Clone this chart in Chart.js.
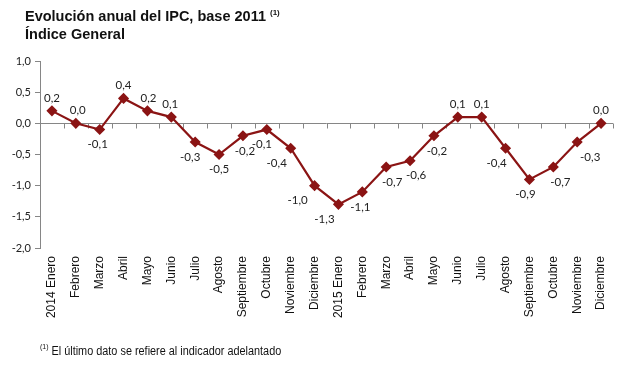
<!DOCTYPE html>
<html>
<head>
<meta charset="utf-8">
<script src="https://cdn.jsdelivr.net/npm/chart.js@4"></script>
<style>
  html, body { margin: 0; padding: 0; background: #fff; }
  #wrap { position: relative; width: 637px; height: 365px; overflow: hidden; }
  #chart { position: absolute; left: 0; top: 0; }
  .title { position: absolute; left: 25px; font: bold 14.5px "Liberation Sans", Arial, sans-serif; color: #111; }
  .title sup, .note sup { font-size: 8px; vertical-align: 6px; }
  .note { position: absolute; left: 40px; top: 342px; font: 12.5px "Liberation Sans", Arial, sans-serif; color: #111;
          white-space: nowrap; transform: scaleX(0.87); transform-origin: 0 0; }
</style>
</head>
<body>
<div id="wrap">
  <canvas id="chart" width="637" height="365"></canvas>
  <div class="title" style="top:8px">Evolución anual del IPC, base 2011 <sup>(1)</sup></div>
  <div class="title" style="top:26px">Índice General</div>
  <div class="note"><sup>(1)</sup> El último dato se refiere al indicador adelantado</div>
</div>
<script>
// Categories
const months = ["Enero", "Febrero", "Marzo", "Abril", "Mayo", "Junio", "Julio", "Agosto",
  "Septiembre", "Octubre", "Noviembre", "Diciembre"];
const labels = months.map((m, i) => i === 0 ? "2014 " + m : m)
  .concat(months.map((m, i) => i === 0 ? "2015 " + m : m));

// IPC annual rate
const ipc = [0.2, 0.0, -0.1, 0.4, 0.2, 0.1, -0.3, -0.5, -0.2, -0.1, -0.4, -1.0,
  -1.3, -1.1, -0.7, -0.6, -0.2, 0.1, 0.1, -0.4, -0.9, -0.7, -0.3, 0.0];

// Y ticks
const yTicks = [1.0, 0.5, 0.0, -0.5, -1.0, -1.5, -2.0];

// where each value label sits: u = above, d = below, plus a small sideways nudge
const labelSide = ["u", "u", "d", "u", "u", "u", "d", "d", "d", "d", "d", "d",
  "d", "d", "d", "d", "d", "u", "u", "d", "d", "d", "d", "u"];
const labelNudge = [0, 2, -2, 0, 1, -1, -5, 0, 2, -5, -14, -17,
  -14, -2, 6, 6, 3, 0, 0, -9, -4, 7, 13, 0];

const fmt = v => v.toFixed(1).replace(".", ",");
const red = "#8b1414";

// zero axis with category tick marks
const zeroAxis = {
  id: "zeroAxis",
  beforeDatasetsDraw(chart) {
    const { ctx, chartArea, scales } = chart;
    const y0 = Math.round(scales.y.getPixelForValue(0)) + 0.5;
    const n = labels.length;
    const w = (chartArea.right - chartArea.left) / n;
    ctx.save();
    ctx.strokeStyle = "#868686";
    ctx.lineWidth = 1;
    ctx.beginPath();
    ctx.moveTo(chartArea.left, y0);
    ctx.lineTo(chartArea.right, y0);
    for (let k = 1; k <= n; k++) {
      const x = Math.round(chartArea.left + k * w) + 0.5;
      ctx.moveTo(x, y0);
      ctx.lineTo(x, y0 + 5);
    }
    ctx.stroke();
    ctx.restore();
  }
};

// value labels
const valueLabels = {
  id: "valueLabels",
  afterDatasetsDraw(chart) {
    const { ctx } = chart;
    const meta = chart.getDatasetMeta(0);
    ctx.save();
    ctx.font = "11.5px Lato, 'Open Sans', sans-serif";
    ctx.fillStyle = "#222";
    ctx.textAlign = "center";
    ctx.textBaseline = "middle";
    meta.data.forEach((pt, i) => {
      const up = labelSide[i] === "u";
      ctx.fillText(fmt(ipc[i]), pt.x + labelNudge[i], pt.y + (up ? -13 : 15));
    });
    ctx.restore();
  }
};

new Chart(document.getElementById("chart"), {
  type: "line",
  data: {
    labels: labels,
    datasets: [{
      data: ipc,
      borderColor: red,
      backgroundColor: red,
      borderWidth: 2.2,
      pointStyle: "rectRot",
      pointRadius: 4,
      pointBackgroundColor: red,
      pointBorderColor: red,
      tension: 0
    }]
  },
  options: {
    responsive: false,
    animation: false,
    layout: { padding: { top: 61, right: 24, left: 0, bottom: 0 } },
    plugins: { legend: { display: false }, tooltip: { enabled: false } },
    scales: {
      x: {
        offset: true,
        grid: { display: false },
        border: { display: false },
        ticks: {
          autoSkip: false, maxRotation: 90, minRotation: 90, padding: 0,
          color: "#111", font: { family: "'Liberation Sans', Arial, sans-serif", size: 12 }
        },
        afterFit(s) { s.height = 117; }
      },
      y: {
        min: -2, max: 1,
        afterBuildTicks(s) { s.ticks = yTicks.map(v => ({ value: v })); },
        grid: { drawOnChartArea: false, tickLength: 5, color: "#868686" },
        border: { display: true, color: "#868686" },
        ticks: {
          padding: 4, color: "#222",
          font: { family: "Lato, 'Open Sans', sans-serif", size: 11 },
          callback: v => fmt(v)
        },
        afterFit(s) { s.width = 40; }
      }
    }
  },
  plugins: [zeroAxis, valueLabels]
});
</script>
</body>
</html>
